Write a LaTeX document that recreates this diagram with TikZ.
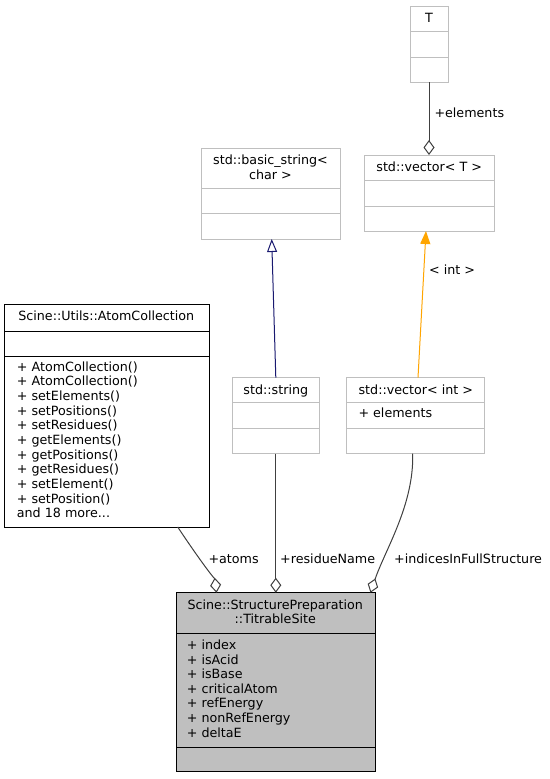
\documentclass[tikz,border=0pt]{standalone}
\usepackage{fontspec}
\setmainfont{DejaVu Sans}
\usetikzlibrary{arrows.meta}
\definecolor{boxgrey}{HTML}{BFBFBF}
\definecolor{edgegrey}{HTML}{404040}
\definecolor{inhblue}{HTML}{191970}
\definecolor{tmplorange}{HTML}{FFA500}
\begin{document}
\begin{tikzpicture}[x=1pt,y=-1pt,
  cls/.style={rectangle, draw=boxgrey, fill=white, line width=1pt, inner sep=0pt, outer sep=0pt},
  doccls/.style={cls, draw=black},
  maincls/.style={cls, draw=black, fill=boxgrey},
  divline/.style={line width=1pt, draw=boxgrey},
  docdiv/.style={line width=1pt, draw=black},
  txt/.style={font=\fontsize{12.7}{14.67}\selectfont, inner sep=0pt, text height=9.5pt, text depth=0.5pt},
  ttl/.style={txt, anchor=center},
  mem/.style={txt, anchor=west},
  lbl/.style={txt, anchor=west},
  uses/.style={draw=edgegrey, line width=1pt, -{Diamond[open,length=15pt,width=11pt]}},
  inherit/.style={draw=inhblue, line width=1pt, -{Triangle[open,length=13pt,width=10pt]}},
  tmpl/.style={draw=tmplorange, line width=1pt, -{Triangle[length=13pt,width=10pt,fill=tmplorange]}}
]
\useasboundingbox (0,0) rectangle (549,779);
\fill[white] (0,0) rectangle (549,779);

% ---- T
\node[cls, minimum width=38pt, minimum height=76pt] (T) at (429,44) {};
\draw[divline] ([yshift=-25.5pt]T.north west) -- ([yshift=-25.5pt]T.north east);
\draw[divline] ([yshift=-51pt]T.north west) -- ([yshift=-51pt]T.north east);
\node[ttl] (Tt) at (429,17.5) {T};

% ---- std::vector< T >
\node[cls, minimum width=129.7pt, minimum height=76pt] (vecT) at (429.2,193) {};
\draw[divline] ([yshift=-25.7pt]vecT.north west) -- ([yshift=-25.7pt]vecT.north east);
\draw[divline] ([yshift=-51pt]vecT.north west) -- ([yshift=-51pt]vecT.north east);
\node[ttl] (vecTt) at (429.2,166.5) {std::vector< T >};

% ---- std::basic_string< char >
\node[cls, minimum width=139pt, minimum height=91pt] (bstr) at (270.5,193.5) {};
\draw[divline] ([yshift=-40pt]bstr.north west) -- ([yshift=-40pt]bstr.north east);
\draw[divline] ([yshift=-65pt]bstr.north west) -- ([yshift=-65pt]bstr.north east);
\node[ttl] (bstrt1) at (270.5,159.5) {std::basic\_string<};
\node[ttl] (bstrt2) at (270.5,174.5) {char >};

% ---- std::string
\node[cls, minimum width=87pt, minimum height=76pt] (str) at (275.8,415.7) {};
\draw[divline] ([yshift=-25pt]str.north west) -- ([yshift=-25pt]str.north east);
\draw[divline] ([yshift=-51pt]str.north west) -- ([yshift=-51pt]str.north east);
\node[ttl] (strt) at (275.8,390) {std::string};

% ---- std::vector< int >
\node[cls, minimum width=138.3pt, minimum height=76pt] (vint) at (415.8,415.7) {};
\draw[divline] ([yshift=-25pt]vint.north west) -- ([yshift=-25pt]vint.north east);
\draw[divline] ([yshift=-51pt]vint.north west) -- ([yshift=-51pt]vint.north east);
\node[ttl] (vintt) at (415.8,390) {std::vector< int >};
\node[mem] (vintm) at (358.3,413.3) {+ elements};

% ---- Scine::Utils::AtomCollection
\node[doccls, minimum width=205pt, minimum height=223pt] (atom) at (106.5,415.5) {};
\draw[docdiv] ([yshift=-27pt]atom.north west) -- ([yshift=-27pt]atom.north east);
\draw[docdiv] ([yshift=-52pt]atom.north west) -- ([yshift=-52pt]atom.north east);
\node[ttl] (atomt) at (106.3,316) {Scine::Utils::AtomCollection};
\foreach \m [count=\i from 0] in {+ AtomCollection(), + AtomCollection(), + setElements(),
  + setPositions(), + setResidues(), + getElements(), + getPositions(), + getResidues(),
  + setElement(), + setPosition()}
  \node[mem] (atomm\i) at (16.7,366.7+14.66*\i) {\m};
\node[mem] (atommore) at (16.7,513.3) {and 18 more...};

% ---- Scine::StructurePreparation::TitrableSite
\node[maincls, minimum width=199pt, minimum height=179pt] (site) at (275.5,682.2) {};
\draw[docdiv] ([yshift=-40.6pt]site.north west) -- ([yshift=-40.6pt]site.north east);
\draw[docdiv] ([yshift=-155pt]site.north west) -- ([yshift=-155pt]site.north east);
\node[ttl] (sitet1) at (275.3,605) {Scine::StructurePreparation};
\node[ttl] (sitet2) at (275.3,619.3) {::TitrableSite};
\foreach \m [count=\i from 0] in {+ index, + isAcid, + isBase, + criticalAtom,
  + refEnergy, + nonRefEnergy, + deltaE}
  \node[mem] (sitem\i) at (186.7,645+14.6*\i) {\m};

% ---- connectors
\draw[uses] (T.south) -- (T.south |- vecT.north);
\node[lbl] (lelem) at (434.3,113.3) {+elements};

\draw[inherit] (str.north) -- ([xshift=1.2pt]bstr.south);

\draw[tmpl] ([xshift=2.2pt]vint.north) -- ([xshift=-3.2pt]vecT.south);
\node[lbl] (lint) at (429,270) {< int >};

\coordinate (atomsStart) at ([xshift=71.2pt]atom.south);
\coordinate (atomsEnd) at ([xshift=-59pt]site.north);
\draw[uses] (atomsStart) .. controls (200.3,561) and (215,580) .. (atomsEnd);
\node[lbl] (latoms) at (208.3,559) {+atoms};

\draw[uses] (str.south) -- (str.south |- site.north);
\node[lbl] (lres) at (280,559) {+residueName};

\coordinate (idxStart) at ([xshift=-3.1pt]vint.south);
\coordinate (idxEnd) at ([xshift=95pt]site.north);
\draw[uses] (idxStart) .. controls (414,505) and (385,550) .. (idxEnd);
\node[lbl] (lidx) at (394,559) {+indicesInFullStructure};
\end{tikzpicture}
\end{document}
